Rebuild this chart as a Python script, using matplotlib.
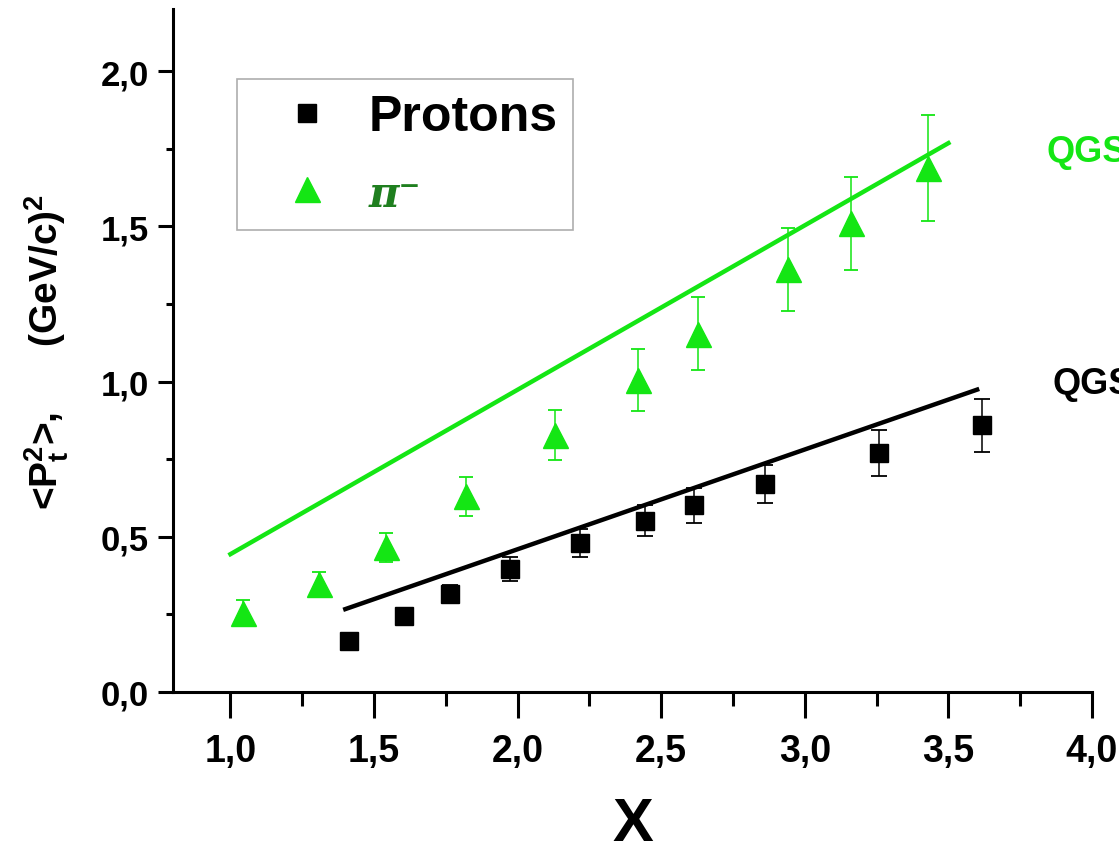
import matplotlib.pyplot as plt
from matplotlib.ticker import MultipleLocator, FuncFormatter
from matplotlib.lines import Line2D

# ---- data ----
# protons
p_x = [1.414, 1.605, 1.765, 1.975, 2.217, 2.443, 2.613, 2.863, 3.258, 3.617]
p_y = [0.165, 0.246, 0.316, 0.396, 0.480, 0.551, 0.601, 0.670, 0.770, 0.859]
p_err = [0.02, 0.025, 0.03, 0.039, 0.046, 0.05, 0.057, 0.062, 0.075, 0.085]

# pi minus
pi_x = [1.043, 1.31, 1.54, 1.82, 2.131, 2.42, 2.629, 2.94, 3.162, 3.43]
pi_y = [0.255, 0.348, 0.466, 0.631, 0.828, 1.005, 1.154, 1.361, 1.51, 1.688]
pi_err = [0.04, 0.04, 0.046, 0.063, 0.08, 0.101, 0.117, 0.135, 0.15, 0.171]

# QGSM model lines (end points)
qgsm_p_x = [1.40, 3.60]
qgsm_p_y = [0.267, 0.974]
qgsm_pi_x = [1.0, 3.5]
qgsm_pi_y = [0.444, 1.768]

GREEN = '#14e614'
DARK_GREEN = '#1f7f1f'

plt.rcParams['font.family'] = ['Liberation Sans', 'DejaVu Sans']
plt.rcParams['font.weight'] = 'bold'
plt.rcParams['mathtext.fontset'] = 'custom'
plt.rcParams['mathtext.rm'] = 'Liberation Sans:bold'
plt.rcParams['mathtext.it'] = 'Liberation Sans:bold'
plt.rcParams['mathtext.bf'] = 'Liberation Sans:bold'

fig = plt.figure(figsize=(11.19, 8.53), dpi=100)
W, H = 1119, 853
ax = fig.add_axes([173 / W, 1 - 693 / H, (1092 - 173) / W, (693 - 10) / H])

# model lines
ax.plot(qgsm_pi_x, qgsm_pi_y, color=GREEN, lw=3.2, zorder=3)
ax.plot(qgsm_p_x, qgsm_p_y, color='black', lw=3.2, zorder=3)

# data with error bars
ax.errorbar(pi_x, pi_y, yerr=pi_err, fmt='none', ecolor=GREEN, elinewidth=1.1,
            capsize=4.7, capthick=1.3, zorder=2)
ax.errorbar(p_x, p_y, yerr=p_err, fmt='none', ecolor='black', elinewidth=1.1,
            capsize=6, capthick=1.3, zorder=2)
ax.plot(pi_x, pi_y, '^', color=GREEN, ms=18, mec=GREEN, zorder=4)
ax.plot(p_x, p_y, 's', color='black', ms=13, zorder=4)

ax.set_xlim(0.8, 4.0)
ax.set_ylim(0.0, 2.2)

for s in ['top', 'right']:
    ax.spines[s].set_visible(False)
for s in ['left', 'bottom']:
    ax.spines[s].set_linewidth(2.2)

ax.xaxis.set_major_locator(MultipleLocator(0.5))
ax.xaxis.set_minor_locator(MultipleLocator(0.25))
ax.yaxis.set_major_locator(MultipleLocator(0.5))
ax.yaxis.set_minor_locator(MultipleLocator(0.25))
comma = FuncFormatter(lambda v, pos: f'{v:.1f}'.replace('.', ','))
ax.xaxis.set_major_formatter(comma)
ax.yaxis.set_major_formatter(comma)

ax.tick_params(axis='x', which='major', direction='out', length=18.5, width=2.2,
               labelsize=27, pad=11)
ax.tick_params(axis='x', which='minor', direction='out', length=10, width=2.2)
ax.tick_params(axis='y', which='major', direction='out', length=10.5, width=2.2,
               labelsize=25, pad=7)
ax.tick_params(axis='y', which='minor', direction='out', length=5, width=2.2)
for lab in ax.get_xticklabels() + ax.get_yticklabels():
    lab.set_fontweight('bold')

ax.set_xlabel('X', fontsize=44, fontweight='bold')
ax.xaxis.set_label_coords(0.5, -0.152)
ax.set_ylabel('<P$_t^{2}$>,      (GeV/c)$^2$', fontsize=28, fontweight='bold')
ax.yaxis.set_label_coords(-0.111, 0.5)

# legend
handles = [Line2D([], [], ls='none', marker='s', color='black', ms=13),
           Line2D([], [], ls='none', marker='^', color=GREEN, ms=18)]
leg = ax.legend(handles, ['Protons', 'π⁻'], loc='upper left',
                bbox_to_anchor=((237 - 173) / 919, (693 - 80) / 683),
                borderaxespad=0, fontsize=36, frameon=True, fancybox=False,
                edgecolor='#999999', handlelength=2.19, handletextpad=0.14,
                borderpad=0.3, labelspacing=0.62)
leg.get_frame().set_linewidth(1.2)
t0, t1 = leg.get_texts()
t0.set_fontweight('bold')
t1.set_color(DARK_GREEN)
t1.set_fontfamily('DejaVu Serif')
t1.set_fontstyle('italic')
t1.set_fontweight('bold')
t1.set_fontsize(30)

# model labels (cut by the right edge like the original)
fig.text(1047 / W, 1 - 152 / H, 'QGSM', color=GREEN, fontsize=26,
         fontweight='bold', ha='left', va='center')
fig.text(1053 / W, 1 - 385 / H, 'QGSM', color='black', fontsize=26,
         fontweight='bold', ha='left', va='center')

fig.savefig('out.png', dpi=100)
